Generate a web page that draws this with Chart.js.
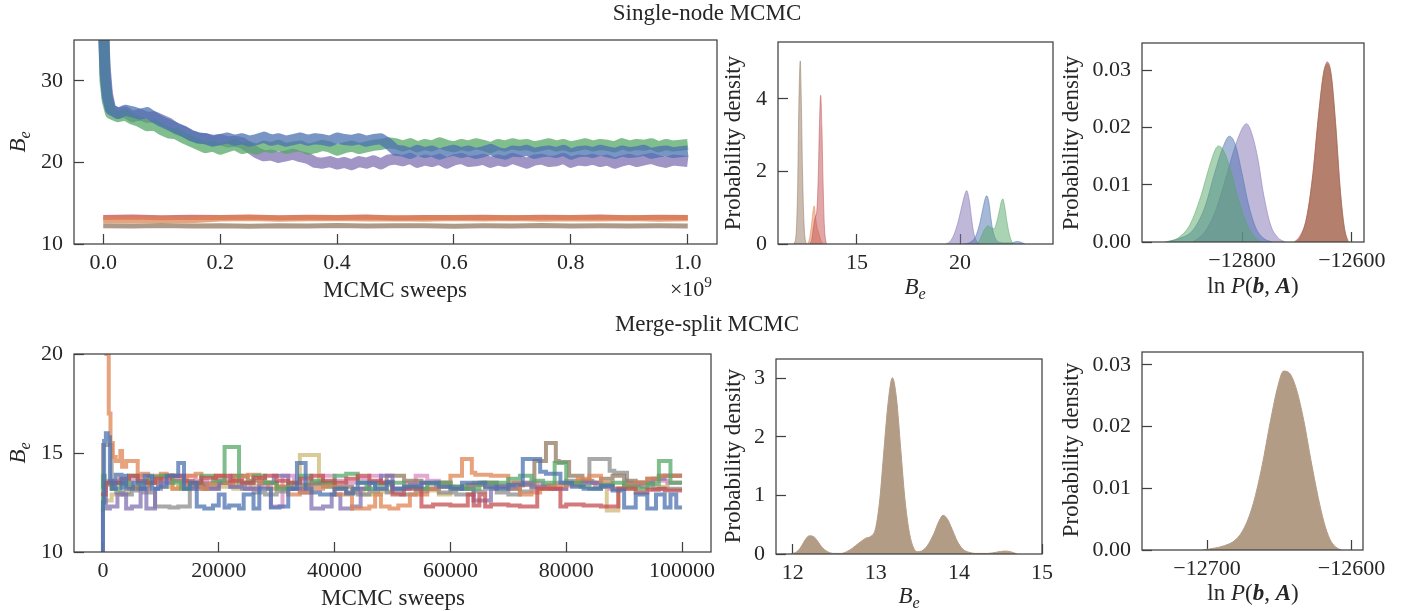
<!DOCTYPE html>
<html lang="en">
<head>
<meta charset="utf-8"/>
<title>Single-node vs merge-split MCMC</title>
<script src="https://cdn.jsdelivr.net/npm/chart.js"></script>
<style>
  body { margin: 0; background: #fff; }
  #fig { position: relative; width: 1415px; height: 611px; }
  #fig canvas { position: absolute; left: 0; top: 0; }
</style>
</head>
<body>
<div id="fig">
<canvas id="snTrace" width="1415" height="611"></canvas>
<canvas id="snBe" width="1415" height="611"></canvas>
<canvas id="snLnP" width="1415" height="611"></canvas>
<canvas id="msTrace" width="1415" height="611"></canvas>
<canvas id="msBe" width="1415" height="611"></canvas>
<canvas id="msLnP" width="1415" height="611"></canvas>
</div>
<script>
// ---- single-node MCMC, traces (x in units of 1e9 sweeps) ----
const topSweeps = [0, 0.003, 0.007, 0.0125, 0.025, 0.0375, 0.05, 0.0625, 0.075, 0.0875, 0.1, 0.1125, 0.125, 0.1375, 0.15, 0.1625, 0.175, 0.1875, 0.2, 0.2125, 0.225, 0.2375, 0.25, 0.2625, 0.275, 0.2875, 0.3, 0.3125, 0.325, 0.3375, 0.35, 0.3625, 0.375, 0.3875, 0.4, 0.4125, 0.425, 0.4375, 0.45, 0.4625, 0.475, 0.4875, 0.5, 0.5125, 0.525, 0.5375, 0.55, 0.5625, 0.575, 0.5875, 0.6, 0.6125, 0.625, 0.6375, 0.65, 0.6625, 0.675, 0.6875, 0.7, 0.7125, 0.725, 0.7375, 0.75, 0.7625, 0.775, 0.7875, 0.8, 0.8125, 0.825, 0.8375, 0.85, 0.8625, 0.875, 0.8875, 0.9, 0.9125, 0.925, 0.9375, 0.95, 0.9625, 0.975, 0.9875, 1.0];
const snBlue = [38, 31, 28, 26.5, 26.0, 26.4, 26.2, 25.9, 26.1, 25.5, 25.0, 24.6, 24.2, 23.8, 23.3, 23.0, 22.9, 22.6, 22.8, 23.0, 22.7, 22.9, 22.6, 22.8, 23.1, 22.7, 22.9, 22.6, 22.8, 23.0, 22.7, 22.9, 22.8, 22.6, 23.0, 22.8, 22.7, 22.9, 22.6, 22.8, 22.9, 22.3, 21.5, 21.4, 21.1, 21.5, 21.2, 21.4, 21.0, 21.3, 21.5, 21.2, 21.4, 21.1, 21.3, 21.6, 21.2, 21.0, 21.4, 21.3, 21.5, 21.1, 21.3, 21.4, 21.2, 21.5, 21.0, 21.3, 21.4, 21.2, 21.5, 21.3, 21.1, 21.4, 21.2, 21.3, 21.5, 21.1, 21.3, 21.4, 21.2, 21.3, 21.4];
const snGreen = [38, 30, 27.5, 26.0, 25.6, 25.8, 25.3, 25.0, 24.5, 24.6, 24.0, 23.6, 23.5, 23.0, 22.6, 22.2, 21.8, 22.0, 21.6, 21.9, 22.2, 21.7, 21.9, 21.6, 22.0, 21.8, 22.1, 21.7, 21.9, 22.0, 21.6, 21.8, 22.1, 21.9, 21.5, 21.8, 22.0, 21.7, 21.9, 22.1, 22.2, 22.4, 22.3, 22.0, 22.3, 21.9, 22.2, 22.0, 22.4, 22.1, 21.9, 22.2, 22.0, 22.3, 22.1, 21.8, 22.2, 22.0, 22.3, 22.1, 22.2, 21.9, 22.1, 22.3, 22.0, 22.2, 21.9, 22.1, 22.3, 22.0, 22.2, 22.1, 21.9, 22.3, 22.0, 22.2, 22.1, 22.3, 21.9, 22.2, 22.0, 22.1, 22.2];
const snPurple = [38, 32, 28.5, 26.6, 26.0, 26.2, 25.6, 25.9, 25.5, 25.6, 25.2, 24.8, 24.1, 23.8, 23.3, 23.0, 22.9, 22.7, 22.8, 22.5, 22.6, 22.4, 21.8, 21.2, 20.8, 20.9, 20.6, 20.8, 21.0, 20.7, 20.5, 20.0, 19.9, 20.1, 19.8, 20.0, 19.7, 20.1, 19.9, 20.2, 19.8, 20.3, 20.4, 20.2, 20.5, 20.0, 20.3, 20.1, 20.4, 19.9, 20.3, 20.5, 20.1, 20.2, 20.4, 20.0, 20.3, 20.1, 20.5, 20.2, 19.9, 20.3, 20.4, 20.1, 20.2, 20.5, 20.0, 20.3, 20.2, 20.4, 20.1, 20.3, 19.9, 20.2, 20.4, 20.1, 20.3, 20.5, 20.2, 20.0, 20.3, 20.2, 20.1];
const flatSweeps = [0, 0.05, 0.1, 0.15, 0.2, 0.25, 0.3, 0.35, 0.4, 0.45, 0.5, 0.55, 0.6, 0.65, 0.7, 0.75, 0.8, 0.85, 0.9, 0.95, 1.0];
const snOrange = [12.95, 12.9, 12.97, 12.92, 13.12, 13.18, 13.1, 13.15, 13.2, 13.12, 13.16, 13.1, 13.18, 13.13, 13.2, 13.1, 13.15, 13.12, 13.18, 13.1, 13.15];
const snRed = [13.25, 13.3, 13.22, 13.28, 13.24, 13.3, 13.22, 13.27, 13.25, 13.3, 13.2, 13.26, 13.24, 13.29, 13.22, 13.27, 13.25, 13.3, 13.23, 13.27, 13.25];
const snBrown = [12.25, 12.2, 12.27, 12.22, 12.25, 12.18, 12.24, 12.21, 12.26, 12.2, 12.23, 12.25, 12.19, 12.24, 12.22, 12.26, 12.2, 12.24, 12.22, 12.25, 12.21];
const snTraceXTicks = [0, 0.2, 0.4, 0.6, 0.8, 1.0];
const snTraceXLabels = ['0.0', '0.2', '0.4', '0.6', '0.8', '1.0'];
const snTraceYTicks = [10, 20, 30];
const snTraceYLabels = ['10', '20', '30'];

// ---- single-node MCMC, density of B_e ----
const snBeBrown = [[11.95, 0], [12.05, 0.3], [12.12, 1.5], [12.18, 3.8], [12.25, 5.05], [12.3, 4.0], [12.36, 2.0], [12.43, 0.6], [12.52, 0.05], [12.58, 0]];
const snBeOrange = [[12.6, 0], [12.7, 0.15], [12.8, 0.55], [12.88, 0.95], [12.93, 1.05], [12.98, 0.8], [13.05, 0.5], [13.15, 0.3], [13.25, 0.1], [13.35, 0]];
const snBeRed = [[12.7, 0], [12.8, 0.1], [12.9, 0.5], [12.98, 0.75], [13.05, 0.9], [13.12, 1.8], [13.18, 3.3], [13.24, 4.1], [13.3, 3.2], [13.36, 1.6], [13.42, 0.5], [13.5, 0.05], [13.55, 0]];
const snBePurple = [[19.3, 0], [19.5, 0.06], [19.7, 0.25], [19.9, 0.6], [20.05, 0.95], [20.2, 1.3], [20.32, 1.47], [20.45, 1.2], [20.55, 0.75], [20.65, 0.35], [20.78, 0.1], [20.9, 0.02], [21.0, 0]];
const snBeBlue = [[20.2, 0], [20.5, 0.05], [20.75, 0.2], [20.95, 0.55], [21.1, 0.95], [21.22, 1.25], [21.3, 1.33], [21.4, 1.15], [21.5, 0.7], [21.6, 0.35], [21.75, 0.12], [21.9, 0.05], [22.2, 0.03], [22.5, 0.03], [22.75, 0.07], [22.95, 0.05], [23.15, 0]];
const snBeGreen = [[20.8, 0], [20.95, 0.1], [21.1, 0.3], [21.25, 0.45], [21.38, 0.5], [21.5, 0.45], [21.65, 0.42], [21.8, 0.65], [21.92, 0.95], [22.02, 1.2], [22.08, 1.24], [22.16, 1.05], [22.28, 0.6], [22.4, 0.25], [22.5, 0.08], [22.6, 0]];
const snBeXTicks = [15, 20];
const snBeXLabels = ['15', '20'];
const snBeYTicks = [0, 2, 4];
const snBeYLabels = ['0', '2', '4'];

// ---- single-node MCMC, density of ln P ----
const snLnGreen = [[-12935, 0], [-12915, 0.0008], [-12895, 0.003], [-12875, 0.008], [-12860, 0.013], [-12848, 0.0163], [-12843, 0.0168], [-12835, 0.0162], [-12822, 0.013], [-12808, 0.008], [-12795, 0.004], [-12780, 0.0012], [-12765, 0]];
const snLnBlue = [[-12940, 0], [-12915, 0.0006], [-12890, 0.002], [-12868, 0.006], [-12850, 0.012], [-12835, 0.0165], [-12823, 0.0185], [-12812, 0.017], [-12800, 0.012], [-12788, 0.0065], [-12775, 0.0025], [-12760, 0.0006], [-12745, 0]];
const snLnPurple = [[-12890, 0], [-12870, 0.0015], [-12850, 0.005], [-12830, 0.011], [-12815, 0.016], [-12800, 0.0198], [-12792, 0.0207], [-12784, 0.0195], [-12772, 0.015], [-12760, 0.008], [-12748, 0.003], [-12735, 0.0008], [-12722, 0]];
const snLnRed = [[-12705, 0], [-12695, 0.001], [-12683, 0.004], [-12672, 0.011], [-12662, 0.021], [-12652, 0.029], [-12645, 0.0315], [-12638, 0.0295], [-12630, 0.021], [-12622, 0.010], [-12615, 0.003], [-12608, 0]];
const snLnOrange = [[-12703, 0], [-12693, 0.001], [-12682, 0.0045], [-12671, 0.012], [-12661, 0.022], [-12652, 0.0295], [-12645, 0.031], [-12638, 0.029], [-12630, 0.0205], [-12622, 0.0095], [-12614, 0.0025], [-12607, 0]];
const snLnBrown = [[-12702, 0], [-12692, 0.0012], [-12681, 0.0048], [-12670, 0.0125], [-12660, 0.0225], [-12651, 0.0298], [-12644, 0.0312], [-12637, 0.0288], [-12629, 0.02], [-12621, 0.009], [-12613, 0.0022], [-12606, 0]];
const snLnXTicks = [-12800, -12600];
const snLnXLabels = ['\u221212800', '\u221212600'];
const densYTicks = [0, 0.01, 0.02, 0.03];
const densYLabels = ['0.00', '0.01', '0.02', '0.03'];

// ---- merge-split MCMC, traces: [sweep, B_e] change points ----
const msBlue = [[0, 10], [200, 12.5], [500, 15.6], [800, 16], [1200, 15.8], [1600, 13.6], [2200, 13.2], [3200, 13.9], [3600, 13.25], [4000, 13.85], [5200, 13.2], [6500, 13.5], [7200, 13.2], [8500, 13.85], [9500, 13.2], [11000, 13.3], [13000, 13.85], [14000, 14.5], [15000, 13.2], [16200, 13.5], [17500, 12.3], [19000, 12.2], [20000, 12.35], [21000, 12.9], [21800, 12.25], [23500, 12.35], [24300, 12.2], [26000, 12.9], [27000, 12.2], [29000, 13.2], [30500, 12.25], [32000, 12.3], [33500, 13.2], [35000, 14.5], [36000, 13.2], [37500, 13.0], [40000, 12.9], [42000, 13.2], [43200, 12.95], [44000, 13.2], [47000, 13.5], [49000, 13.2], [50000, 13.55], [52000, 13.2], [55000, 13.3], [58000, 13.5], [60000, 13.3], [62000, 13.2], [66000, 13.5], [68000, 13.3], [70000, 13.2], [72500, 13.4], [75500, 14.7], [76500, 14.05], [79000, 13.95], [81000, 13.5], [83000, 13.3], [86000, 13.2], [88000, 13.35], [90000, 13.1], [92000, 12.25], [94000, 12.9], [95500, 12.2], [97000, 12.9], [98000, 12.25], [99000, 12.9], [99500, 12.25], [100000, 12.25]];
const msOrange = [[0, 30], [600, 24], [1000, 20], [1300, 17], [1700, 15.5], [2200, 14.8], [3000, 14.6], [3300, 15.1], [4000, 14.3], [6000, 14.6], [6700, 13.85], [7800, 13.95], [9000, 13.5], [10000, 13.85], [11000, 13.95], [12000, 13.85], [13000, 13.2], [14500, 13.3], [16000, 13.85], [17000, 13.95], [18000, 13.2], [19500, 13.45], [21000, 13.85], [23000, 13.5], [25000, 13.8], [27000, 13.9], [28500, 13.5], [30000, 13.2], [32000, 13.3], [34000, 12.9], [36000, 13.0], [38000, 13.2], [40000, 13.35], [43000, 12.9], [46000, 12.2], [47000, 12.3], [48000, 12.9], [49500, 12.3], [51000, 12.2], [53000, 12.35], [56000, 12.9], [58000, 13.2], [60000, 13.5], [62000, 13.85], [63700, 14.7], [64300, 14.0], [67000, 13.9], [70000, 13.85], [72000, 13.5], [74000, 12.9], [75500, 13.0], [77000, 13.2], [80000, 13.35], [82000, 13.5], [84000, 13.7], [86000, 13.85], [88000, 13.5], [90000, 13.2], [92000, 13.4], [94000, 13.5], [96000, 13.7], [98000, 13.85], [100000, 13.85]];
const msGreen = [[0, 12], [300, 13.85], [1500, 13.5], [3000, 13.2], [4500, 13.45], [6000, 13.85], [8000, 13.5], [10000, 13.8], [12000, 13.85], [13500, 13.5], [15000, 13.2], [17000, 13.5], [19000, 13.85], [21000, 13.6], [23500, 15.3], [26000, 13.5], [28000, 13.85], [30000, 13.5], [32000, 13.2], [34000, 13.5], [36000, 13.85], [38000, 13.6], [40000, 13.5], [42000, 13.85], [44000, 13.95], [45500, 13.5], [47000, 13.2], [49500, 13.4], [52000, 13.5], [54000, 13.3], [56000, 13.2], [58000, 13.45], [60000, 13.5], [62500, 13.3], [65000, 13.2], [67500, 13.5], [70000, 13.5], [72000, 13.7], [74000, 13.85], [76000, 13.6], [78000, 13.5], [80000, 14.5], [82500, 13.5], [84000, 13.3], [86000, 13.2], [88000, 13.4], [90000, 13.5], [92000, 13.3], [94000, 13.2], [96000, 13.45], [98000, 14.6], [98700, 13.5], [100000, 13.5]];
const msRed = [[0, 13], [500, 12.9], [3000, 13.5], [4500, 13.7], [6000, 13.85], [7500, 13.6], [9000, 13.5], [11500, 13.7], [14000, 13.85], [15500, 13.6], [17000, 13.5], [19500, 13.75], [22000, 13.85], [24000, 13.6], [26000, 13.5], [28000, 13.75], [30000, 13.85], [32000, 13.6], [34000, 13.5], [36000, 13.7], [38000, 13.85], [40000, 13.6], [42000, 13.5], [44000, 13.7], [46000, 13.85], [48000, 13.6], [50000, 13.5], [52000, 12.9], [55000, 13.2], [57000, 12.3], [60000, 12.4], [63000, 12.35], [64000, 12.9], [65000, 12.35], [66000, 12.9], [67000, 12.3], [70000, 12.4], [72000, 12.35], [75000, 12.3], [79000, 13.2], [80000, 12.3], [83000, 12.4], [86000, 12.35], [89000, 12.3], [92000, 13.2], [94000, 13], [96000, 13.15], [97000, 13.2], [100000, 13.1]];
const msPurple = [[0, 10], [200, 12.2], [500, 13.2], [1200, 12.2], [2500, 12.3], [4000, 12.9], [5000, 12.2], [6500, 12.3], [7500, 13.2], [9000, 12.2], [10000, 13.2], [12000, 13.5], [14000, 13.85], [16000, 13.2], [18000, 13.45], [20000, 13.2], [22000, 13.5], [24500, 13.3], [27000, 13.2], [29500, 13.5], [32000, 13.85], [34000, 13.2], [36000, 13.0], [38000, 12.2], [39500, 12.3], [41000, 12.9], [43000, 12.2], [44500, 12.3], [46000, 13.2], [48000, 13.5], [50000, 13.85], [53000, 13.2], [55000, 13.4], [57500, 13.2], [60000, 13.5], [62000, 13.3], [64000, 13.2], [67000, 12.6], [68000, 13.2], [71000, 13.35], [74000, 13.5], [77000, 13.3], [80000, 13.2], [83000, 13.45], [86000, 13.5], [88000, 13.3], [90000, 13.2], [92500, 13.4], [95000, 13.5], [97000, 13.7], [99000, 13.85], [100000, 13.85]];
const msBrown = [[0, 13.2], [2000, 13.4], [4000, 13.5], [6000, 13.3], [8000, 13.2], [10000, 13.5], [12000, 13.85], [13500, 13.6], [15000, 13.5], [17500, 13.3], [20000, 13.2], [22500, 13.5], [25000, 13.85], [27500, 13.6], [30000, 13.5], [32500, 13.3], [35000, 13.2], [37500, 13.4], [40000, 13.5], [43000, 13.3], [46000, 13.2], [49000, 13.5], [52000, 13.85], [55000, 13.6], [58000, 13.5], [60500, 13.3], [63000, 13.2], [65500, 13.4], [68000, 13.5], [70000, 13.3], [72000, 13.2], [74500, 13.4], [76500, 14.6], [78200, 15.5], [78700, 14.6], [80500, 14.55], [82800, 13.85], [84500, 13.6], [86000, 13.5], [88000, 13.7], [90000, 13.85], [92000, 13.6], [94000, 13.5], [96000, 13.7], [98000, 13.85], [100000, 13.85]];
const msPink = [[0, 13.85], [2500, 13.6], [5000, 13.5], [6500, 13.7], [8000, 13.85], [10000, 13.6], [12000, 13.5], [14000, 13.7], [16000, 13.85], [18000, 13.6], [20000, 13.5], [22000, 13.7], [24000, 13.85], [25500, 13.5], [27000, 13.2], [29000, 13.3], [31000, 12.3], [33000, 13.85], [34500, 13.5], [36000, 13.2], [38000, 13.5], [40000, 13.85], [42000, 13.6], [44000, 13.5], [46000, 13.7], [48000, 13.85], [50000, 13.5], [52000, 13.2], [54000, 13.5], [56000, 13.85], [58000, 13.6], [60000, 13.5], [62000, 13.3], [64000, 13.2], [66000, 13.4], [68000, 13.5], [70000, 13.3], [72000, 13.2], [74000, 13.4], [76000, 13.5], [78000, 13.3], [80000, 13.2], [82500, 13.4], [85000, 13.5], [87500, 13.3], [90000, 13.2], [92500, 13.4], [95000, 13.5], [97500, 13.6], [100000, 13.5]];
const msGray = [[0, 13.2], [1500, 15.4], [2300, 13.2], [3500, 13.0], [5000, 12.9], [6000, 13.1], [7000, 13.2], [9000, 13.0], [11500, 12.3], [13000, 12.25], [15000, 12.3], [17500, 13.2], [20000, 13.35], [22000, 13.5], [24000, 13.3], [26000, 13.2], [28000, 13.0], [30000, 12.9], [31500, 13.05], [33000, 13.2], [35500, 13.4], [38000, 13.5], [40000, 13.3], [42000, 13.2], [44000, 13.0], [46000, 12.9], [47500, 13.05], [49000, 13.2], [51500, 13.0], [54000, 12.9], [56000, 13.05], [58000, 13.2], [61000, 13.0], [64000, 12.9], [66000, 13.05], [68000, 13.2], [70000, 13.0], [72000, 12.9], [74000, 13.05], [76000, 13.2], [78000, 13.35], [80000, 13.5], [84000, 13.6], [87500, 14.7], [88300, 14.1], [90500, 14.0], [93000, 13.5], [95000, 13.3], [97000, 13.2], [100000, 13.2]];
const msOlive = [[0, 12.5], [1500, 12.6], [3000, 12.9], [4500, 13.0], [6000, 13.2], [8000, 13.35], [10000, 13.5], [12000, 13.3], [14000, 13.2], [17000, 13.35], [20000, 13.5], [22500, 13.3], [25000, 13.2], [27500, 13.35], [30000, 13.5], [32000, 13.3], [34000, 13.2], [37300, 14.9], [38400, 13.5], [40000, 13.3], [42000, 13.2], [45000, 13.0], [48000, 12.9], [50000, 13.05], [52000, 13.2], [54000, 13.35], [56000, 13.5], [58000, 13.1], [60000, 12.9], [62000, 13.2], [64000, 13.35], [66000, 13.5], [68000, 13.3], [70000, 13.2], [72500, 13.35], [75000, 13.5], [77500, 13.3], [80000, 13.2], [82500, 13.35], [85000, 13.5], [87000, 13.3], [89000, 12.1], [91500, 13.2], [93000, 13.35], [95000, 13.5], [97500, 13.3], [100000, 13.5]];
const msTraceXTicks = [0, 20000, 40000, 60000, 80000, 100000];
const msTraceXLabels = ['0', '20000', '40000', '60000', '80000', '100000'];
const msTraceYTicks = [10, 15, 20];
const msTraceYLabels = ['10', '15', '20'];

// ---- merge-split MCMC, densities ----
const msBeDensity = [[11.98, 0], [12.05, 0.04], [12.1, 0.12], [12.15, 0.24], [12.2, 0.31], [12.25, 0.3], [12.3, 0.22], [12.35, 0.12], [12.42, 0.04], [12.5, 0.01], [12.58, 0.01], [12.65, 0.04], [12.72, 0.1], [12.8, 0.19], [12.88, 0.27], [12.95, 0.31], [13.0, 0.45], [13.05, 0.95], [13.1, 1.8], [13.15, 2.6], [13.2, 3.01], [13.25, 2.65], [13.3, 1.8], [13.35, 0.95], [13.4, 0.4], [13.45, 0.12], [13.5, 0.04], [13.55, 0.05], [13.62, 0.14], [13.7, 0.35], [13.76, 0.56], [13.81, 0.66], [13.86, 0.6], [13.92, 0.42], [13.98, 0.22], [14.05, 0.08], [14.12, 0.03], [14.2, 0.01], [14.35, 0.01], [14.45, 0.03], [14.55, 0.05], [14.62, 0.04], [14.7, 0]];
const msBeXTicks = [12, 13, 14, 15];
const msBeXLabels = ['12', '13', '14', '15'];
const msBeYTicks = [0, 1, 2, 3];
const msBeYLabels = ['0', '1', '2', '3'];
const msLnDensity = [[-12703, 0], [-12695, 0.0003], [-12688, 0.0007], [-12680, 0.0017], [-12674, 0.0037], [-12668, 0.0075], [-12662, 0.0135], [-12656, 0.021], [-12651, 0.0265], [-12647, 0.029], [-12643, 0.0287], [-12638, 0.026], [-12633, 0.021], [-12628, 0.0145], [-12623, 0.0085], [-12619, 0.0045], [-12615, 0.0018], [-12611, 0.0005], [-12607, 0]];
const msLnXTicks = [-12700, -12600];
const msLnXLabels = ['\u221212700', '\u221212600'];

// ---- styling ----
const SERIF = "'Liberation Serif', 'DejaVu Serif', serif";
const INK = '#262626';
const SPINE = '#404040';
Chart.defaults.font.family = SERIF;
const deep = {blue: '#4C72B0', orange: '#DD8452', green: '#55A868', red: '#C44E52', purple: '#8172B3',
              brown: '#937860', pink: '#DA8BC3', gray: '#8C8C8C', olive: '#CCB974'};
const rgba = (hex, a) => {
  const n = parseInt(hex.slice(1), 16);
  return 'rgba(' + (n >> 16) + ',' + ((n >> 8) & 255) + ',' + (n & 255) + ',' + a + ')';
};

function drawRich(ctx, item) {
  const size = item.size || 23;
  ctx.save();
  ctx.translate(item.x, item.y);
  if (item.rot) ctx.rotate(item.rot);
  const parts = item.segs.map(([t, st]) => {
    let s = size, dy = 0, style = '';
    if (st === 'i') style = 'italic ';
    if (st === 'bi') style = 'italic bold ';
    if (st === 'sub') { style = 'italic '; s = size * 0.7; dy = size * 0.22; }
    if (st === 'sup') { s = size * 0.7; dy = -size * 0.4; }
    ctx.font = style + s + 'px ' + SERIF;
    return {t: t, f: ctx.font, dy: dy, w: ctx.measureText(t).width};
  });
  const total = parts.reduce((a, p) => a + p.w, 0);
  let x = -total / 2;
  ctx.fillStyle = INK;
  ctx.textBaseline = 'alphabetic';
  ctx.textAlign = 'left';
  parts.forEach(p => { ctx.font = p.f; ctx.fillText(p.t, x, p.dy); x += p.w; });
  ctx.restore();
}

const framePlugin = {
  id: 'frame',
  afterDraw(chart, args, opts) {
    const {ctx, chartArea: a} = chart;
    ctx.save();
    ctx.strokeStyle = SPINE;
    ctx.lineWidth = 1.25;
    ctx.strokeRect(a.left, a.top, a.right - a.left, a.bottom - a.top);
    (opts.texts || []).forEach(t => drawRich(ctx, t));
    ctx.restore();
  }
};

function axis(min, max, ticks, labels, isX, size) {
  return {
    type: 'linear', min: min, max: max, z: 1,
    afterBuildTicks: s => { s.ticks = ticks.map(v => ({value: v})); },
    afterFit: s => { if (isX) s.height = size; else s.width = size; },
    grid: {drawOnChartArea: false, drawTicks: true, tickLength: -10, tickWidth: 1.25, tickColor: SPINE},
    border: {display: false},
    ticks: {color: INK, font: {family: SERIF, size: 22}, padding: isX ? 16 : 21,
            autoSkip: false, maxRotation: 0, callback: (v, i) => labels[i]}
  };
}

function trace(xs, ys, color, width) {
  return {data: xs.map((x, i) => ({x: x, y: ys[i]})), borderColor: rgba(color, 0.75), borderWidth: width,
          pointRadius: 0, tension: 0, fill: false, clip: 0, borderJoinStyle: 'round'};
}
function steps(pairs, color) {
  return {data: pairs.map(p => ({x: p[0], y: p[1]})), stepped: 'after', borderColor: rgba(color, 0.75),
          borderWidth: 4, pointRadius: 0, fill: false, clip: 0};
}
function kde(pairs, fillColor) {
  return {data: pairs.map(p => ({x: p[0], y: p[1]})), borderColor: fillColor, backgroundColor: fillColor,
          borderWidth: 1, fill: 'origin', pointRadius: 0, cubicInterpolationMode: 'monotone', clip: 0};
}

// area = [left, top, right, bottom] of the plot box on the page
function panel(id, area, xr, yr, datasets, texts) {
  const yw = Math.min(area[0], 90), xh = 40;
  return new Chart(document.getElementById(id), {
    type: 'line',
    data: {datasets: datasets},
    options: {
      responsive: false, animation: false, devicePixelRatio: 1,
      layout: {padding: {left: area[0] - yw, top: area[1], right: 1415 - area[2], bottom: 611 - area[3] - xh}},
      scales: {x: axis(xr[0], xr[1], xr[2], xr[3], true, xh), y: axis(yr[0], yr[1], yr[2], yr[3], false, yw)},
      plugins: {legend: {display: false}, tooltip: {enabled: false}, frame: {texts: texts}}
    },
    plugins: [framePlugin]
  });
}

const Be = [['B', 'i'], ['e', 'sub']];
const lnP = [['ln ', 'r'], ['P', 'i'], ['(', 'r'], ['b', 'bi'], [', ', 'r'], ['A', 'bi'], [')', 'r']];
const UP = -Math.PI / 2;

panel('snTrace', [74, 40, 717, 244],
  [-0.05, 1.05, snTraceXTicks, snTraceXLabels],
  [10, 35, snTraceYTicks, snTraceYLabels],
  [trace(topSweeps, snBlue, deep.blue, 11), trace(topSweeps, snGreen, deep.green, 11),
   trace(topSweeps, snPurple, deep.purple, 11), trace(flatSweeps, snOrange, deep.orange, 6),
   trace(flatSweeps, snRed, deep.red, 5), trace(flatSweeps, snBrown, deep.brown, 5)],
  [{x: 707, y: 20, segs: [['Single-node MCMC', 'r']]},
   {x: 395, y: 297, segs: [['MCMC sweeps', 'r']]},
   {x: 691, y: 296, size: 22, segs: [['\u00d710', 'r'], ['9', 'sup']]},
   {x: 25, y: 142, rot: UP, segs: Be}]);

panel('snBe', [778, 42, 1053, 244],
  [11.17, 24.51, snBeXTicks, snBeXLabels],
  [0, 5.57, snBeYTicks, snBeYLabels],
  [kde(snBeGreen, rgba(deep.green, 0.5)), kde(snBeBlue, rgba(deep.blue, 0.5)), kde(snBePurple, rgba(deep.purple, 0.5)),
   kde(snBeRed, rgba(deep.red, 0.5)), kde(snBeOrange, rgba(deep.orange, 0.5)), kde(snBeBrown, rgba(deep.brown, 0.5))],
  [{x: 740, y: 143, rot: UP, segs: [['Probability density', 'r']]},
   {x: 915, y: 294, segs: Be}]);

panel('snLnP', [1142, 43, 1364, 242],
  [-12982, -12578, snLnXTicks, snLnXLabels],
  [0, 0.0348, densYTicks, densYLabels],
  [kde(snLnBrown, rgba(deep.brown, 0.5)), kde(snLnRed, rgba(deep.red, 0.5)), kde(snLnOrange, rgba(deep.orange, 0.5)),
   kde(snLnGreen, rgba(deep.green, 0.5)), kde(snLnBlue, rgba(deep.blue, 0.5)), kde(snLnPurple, rgba(deep.purple, 0.5))],
  [{x: 1078, y: 143, rot: UP, segs: [['Probability density', 'r']]},
   {x: 1253, y: 293, segs: lnP}]);

panel('msTrace', [74, 354, 711, 552],
  [-5000, 105000, msTraceXTicks, msTraceXLabels],
  [10, 20, msTraceYTicks, msTraceYLabels],
  [steps(msBlue, deep.blue), steps(msRed, deep.red), steps(msGreen, deep.green), steps(msOrange, deep.orange),
   steps(msPurple, deep.purple), steps(msBrown, deep.brown), steps(msGray, deep.gray), steps(msPink, deep.pink),
   steps(msOlive, deep.olive)],
  [{x: 707, y: 331, segs: [['Merge-split MCMC', 'r']]},
   {x: 393, y: 605, segs: [['MCMC sweeps', 'r']]},
   {x: 25, y: 453, rot: UP, segs: Be}]);

panel('msBe', [776, 359, 1042, 554],
  [11.8, 15.0, msBeXTicks, msBeXLabels],
  [0, 3.33, msBeYTicks, msBeYLabels],
  [kde(msBeDensity, '#b39c86')],
  [{x: 740, y: 456, rot: UP, segs: [['Probability density', 'r']]},
   {x: 909, y: 603, segs: Be}]);

panel('msLnP', [1142, 352, 1363, 550],
  [-12745, -12592, msLnXTicks, msLnXLabels],
  [0, 0.0321, densYTicks, densYLabels],
  [kde(msLnDensity, '#b39c86')],
  [{x: 1078, y: 450, rot: UP, segs: [['Probability density', 'r']]},
   {x: 1253, y: 600, segs: lnP}]);
</script>
</body>
</html>
